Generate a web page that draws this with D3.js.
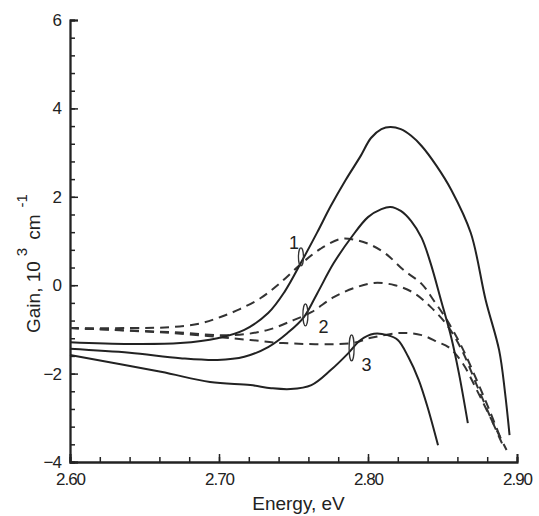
<!DOCTYPE html>
<html>
<head>
<meta charset="utf-8">
<script src="https://cdn.jsdelivr.net/npm/d3@7"></script>
<style>
  body { margin: 0; background: #fff; }
  svg text { font-family: "Liberation Sans", Arial, sans-serif; fill: #222; }
</style>
</head>
<body>
<div class="svg-container"></div>
<script>
// energy (eV) / gain (10^3 cm^-1)
var solid1E = [2.600, 2.640, 2.674, 2.699, 2.717, 2.733, 2.744, 2.756, 2.766, 2.775, 2.785, 2.795, 2.802, 2.809, 2.815, 2.822, 2.829, 2.836, 2.846, 2.856, 2.869, 2.879, 2.888, 2.892, 2.895];
var solid1G = [-1.29, -1.33, -1.31, -1.20, -1.01, -0.63, -0.15, 0.57, 1.20, 1.79, 2.38, 2.92, 3.33, 3.53, 3.58, 3.53, 3.38, 3.15, 2.70, 2.15, 1.18, -0.34, -1.47, -2.44, -3.39];

var solid2E = [2.600, 2.640, 2.674, 2.699, 2.717, 2.733, 2.746, 2.757, 2.766, 2.777, 2.789, 2.800, 2.809, 2.815, 2.822, 2.829, 2.836, 2.842, 2.849, 2.856, 2.861, 2.867];
var solid2G = [-1.44, -1.53, -1.65, -1.69, -1.62, -1.40, -1.08, -0.72, -0.18, 0.50, 1.09, 1.54, 1.72, 1.77, 1.68, 1.45, 1.07, 0.50, -0.34, -1.20, -1.99, -3.12];

var solid3E = [2.600, 2.661, 2.694, 2.721, 2.735, 2.748, 2.762, 2.775, 2.787, 2.795, 2.804, 2.813, 2.820, 2.827, 2.834, 2.840, 2.847];
var solid3G = [-1.58, -1.96, -2.19, -2.26, -2.33, -2.35, -2.26, -1.92, -1.53, -1.24, -1.10, -1.13, -1.24, -1.62, -2.14, -2.76, -3.62];

var dash1E = [2.600, 2.640, 2.667, 2.688, 2.701, 2.714, 2.728, 2.741, 2.755, 2.768, 2.782, 2.792, 2.802, 2.812, 2.824, 2.836, 2.844, 2.853, 2.863, 2.873, 2.882, 2.890];
var dash1G = [-0.97, -0.97, -0.95, -0.86, -0.72, -0.54, -0.29, 0.05, 0.48, 0.82, 1.05, 1.02, 0.91, 0.71, 0.34, 0.03, -0.34, -0.79, -1.40, -2.15, -2.87, -3.55];

var dash2E = [2.600, 2.667, 2.710, 2.733, 2.750, 2.762, 2.777, 2.791, 2.804, 2.818, 2.831, 2.842, 2.853, 2.863, 2.873, 2.883, 2.891];
var dash2G = [-0.97, -1.06, -1.13, -1.01, -0.79, -0.61, -0.27, -0.06, 0.05, 0.00, -0.18, -0.49, -0.90, -1.47, -2.26, -3.05, -3.66];

var dash3E = [2.600, 2.667, 2.721, 2.743, 2.789, 2.802, 2.822, 2.836, 2.847, 2.854, 2.863, 2.873, 2.883, 2.893];
var dash3G = [-0.97, -1.08, -1.24, -1.31, -1.31, -1.19, -1.08, -1.13, -1.29, -1.40, -1.74, -2.37, -3.05, -3.73];

var xTicks = [2.60, 2.70, 2.80, 2.90];
var yTicks = [-4, -2, 0, 2, 4, 6];

// curve labels: number, energy and gain of the little mark
var labelNames = ["1", "2", "3"];
var labelE = [2.755, 2.758, 2.789];
var labelG = [0.64, -0.67, -1.42];

var margin = {top: 20, right: 22, bottom: 54, left: 70},
    fullWidth = 539,
    fullHeight = 516,
    width  = fullWidth - margin.left - margin.right,
    height = fullHeight - margin.top - margin.bottom;

var svg = d3.select(".svg-container")
    .append("svg")
    .attr("width", fullWidth)
    .attr("height", fullHeight)
    .append("g")
    .attr("transform", "translate(" + margin.left + "," + margin.top + ")");

var xScale = d3.scaleLinear().domain([2.60, 2.90]).range([0, width]);
var yScale = d3.scaleLinear().domain([-4, 6]).range([height, 0]);

function zip(es, gs) {
    return es.map(function(e, i) { return {e: e, g: gs[i]}; });
}

var line = d3.line()
    .x(function(d) { return xScale(d.e); })
    .y(function(d) { return yScale(d.g); })
    .curve(d3.curveCatmullRom.alpha(0.5));

// axes, ticks pointing inside
svg.append("g")
    .attr("transform", "translate(0," + height + ")")
    .call(d3.axisBottom(xScale).tickValues(d3.range(2.60, 2.9001, 0.02)).tickSize(-5).tickFormat(""));
svg.append("g")
    .attr("transform", "translate(0," + height + ")")
    .call(d3.axisBottom(xScale).tickValues(xTicks).tickSize(-8).tickPadding(11).tickFormat(d3.format(".2f")));

svg.append("g")
    .call(d3.axisLeft(yScale).tickValues(d3.range(-4, 6.001, 0.4)).tickSize(-5).tickFormat(""));
svg.append("g")
    .call(d3.axisLeft(yScale).tickValues(yTicks).tickSize(-8).tickPadding(9).tickFormat(d3.format("d")));

svg.selectAll(".domain").attr("stroke", "#222").attr("stroke-width", 1.8);
svg.selectAll(".tick line").attr("stroke", "#222").attr("stroke-width", 1.5);
svg.selectAll(".tick text")
    .style("font-size", "17px")
    .style("letter-spacing", "-1px")
    .attr("fill", "#222");

// curves
var solids = [zip(solid1E, solid1G), zip(solid2E, solid2G), zip(solid3E, solid3G)];
var dashes = [zip(dash1E, dash1G), zip(dash2E, dash2G), zip(dash3E, dash3G)];

svg.selectAll(".dashcurve")
    .data(dashes)
    .enter().append("path")
    .attr("class", "dashcurve")
    .attr("d", line)
    .attr("fill", "none")
    .attr("stroke", "#333")
    .attr("stroke-width", 2)
    .attr("stroke-dasharray", "9,6");

svg.selectAll(".solidcurve")
    .data(solids)
    .enter().append("path")
    .attr("class", "solidcurve")
    .attr("d", line)
    .attr("fill", "none")
    .attr("stroke", "#222")
    .attr("stroke-width", 2);

// curve numbers with small marks
var labelDx = [-7, 18, 15], labelDy = [-8, 18, 23], markRy = [9, 11, 13];
labelNames.forEach(function(name, i) {
    var cx = xScale(labelE[i]), cy = yScale(labelG[i]);
    svg.append("ellipse")
        .attr("cx", cx).attr("cy", cy)
        .attr("rx", 2.5).attr("ry", markRy[i])
        .attr("fill", "none")
        .attr("stroke", "#333")
        .attr("stroke-width", 1.3);
    svg.append("text")
        .attr("x", cx + labelDx[i])
        .attr("y", cy + labelDy[i])
        .attr("text-anchor", "middle")
        .style("font-size", "18px")
        .text(name);
});

// axis titles
svg.append("text")
    .attr("x", width / 2 + 5)
    .attr("y", height + 48)
    .attr("text-anchor", "middle")
    .style("font-size", "19px")
    .text("Energy, eV");

var yTitle = svg.append("text")
    .attr("transform", "translate(-30,313) rotate(-90)")
    .attr("text-anchor", "start")
    .style("font-size", "19px");
yTitle.append("tspan").text("Gain, 10");
yTitle.append("tspan").attr("dy", -13).attr("dx", 5).style("font-size", "15px").text("3");
yTitle.append("tspan").attr("dy", 13).attr("dx", 8).text("cm");
yTitle.append("tspan").attr("dy", -13).attr("dx", 7).style("font-size", "15px").text("-1");
</script>
</body>
</html>
